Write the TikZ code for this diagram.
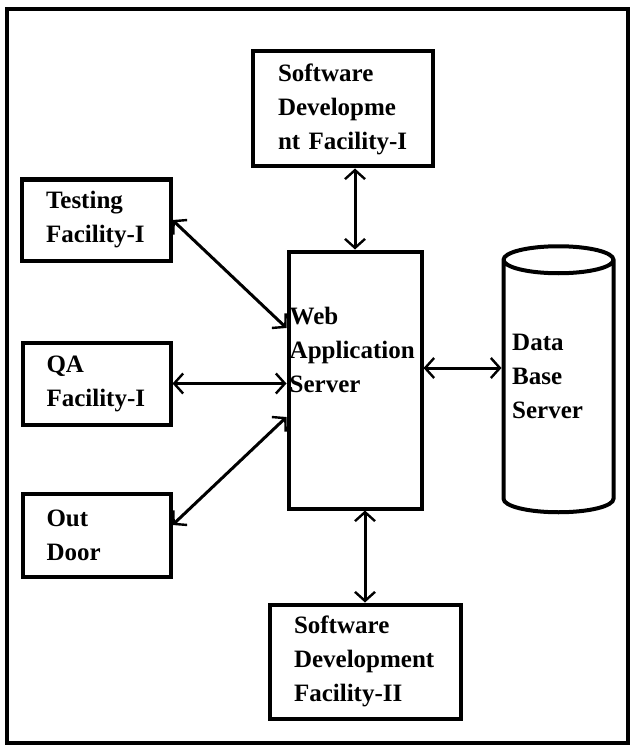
\documentclass[tikz,border=0pt]{standalone}
\usepackage{fontspec}
\setmainfont{Liberation Serif}
\usetikzlibrary{arrows.meta,shapes.geometric}

\begin{document}
\begin{tikzpicture}[x=1pt,y=-1pt,
    box/.style={draw, line width=4pt, align=left, inner sep=0pt,
      font=\fontsize{25}{34}\selectfont\bfseries},
    txt/.style={align=left, inner sep=0pt, font=\fontsize{25}{34}\selectfont\bfseries},
    link/.style={{Straight Barb[length=9pt,width=20pt,line width=2.4pt]}-{Straight Barb[length=9pt,width=20pt,line width=2.4pt]},
      line width=3pt}]
                \useasboundingbox (0,0) rectangle (631,746);
                \draw[line width=4pt] (7,9) rectangle (628,743);

                \node[box, minimum width=180pt, minimum height=115pt, text width=129pt] (sdfa) at (342.5,109) {Software\\Developme\\\mbox{nt Facility-I}};
                \node[box, minimum width=149pt, minimum height=81pt, text width=100pt] (test) at (96,220) {Testing\\Facility-I};
                \node[box, minimum width=148pt, minimum height=82pt, text width=100pt] (qa) at (96.5,383.5) {QA\\Facility-I};
                \node[box, minimum width=148pt, minimum height=83pt, text width=100pt] (door) at (96.5,535) {Out\\Door};
                \node[box, minimum width=191pt, minimum height=114pt, text width=142pt] (sdfb) at (365,661.5) {Software\\Development\\Facility-II};

                \node[box, minimum width=133pt, minimum height=257pt] (was) at (355,380) {};
                \node[txt, anchor=north west] (wastitle) at ([xshift=3pt,yshift=-57pt]was.north west) {Web\\Application\\Server};

                \node[box, cylinder, shape border rotate=90, aspect=0.3, minimum width=110pt, minimum height=266pt, text width=90pt] (db) at (558.5,387) {};
                \node[txt, anchor=north west] (dbtitle) at (512,334) {Data\\Base\\Server};

                \draw[link] (was.north |- sdfa.south) -- (was.north);
                \draw[link] (sdfb.north |- was.south) -- (sdfb.north);
                \draw[link] (test.east) -- ([yshift=52pt]was.west);
                \draw[link] (qa.east) -- (qa.east -| was.west);
                \draw[link] ([yshift=10pt]door.east) -- ([yshift=-37pt]was.west);
                \draw[link] ([yshift=12pt]was.east) -- ([yshift=12pt]was.east -| db.west);
            %   \draw[link] (was.east) -- (db.west);
            \end{tikzpicture}
\end{document}
